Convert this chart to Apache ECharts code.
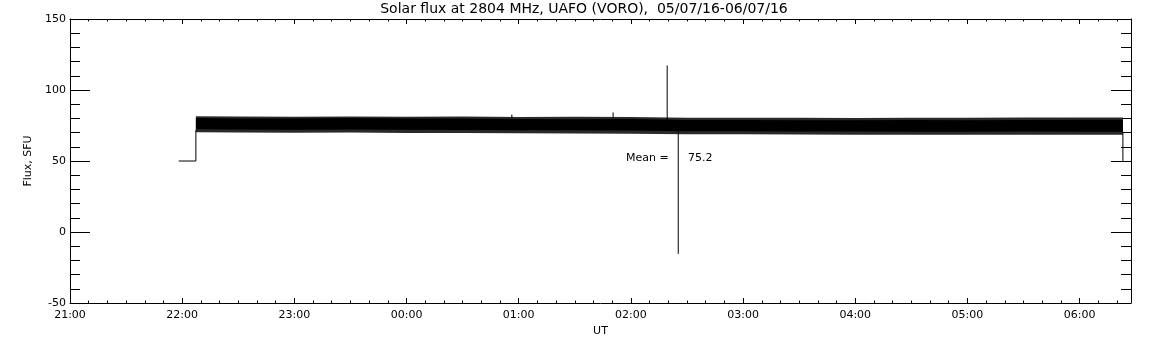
<!DOCTYPE html>
<html>
<head>
<meta charset="utf-8">
<script src="https://cdn.jsdelivr.net/npm/echarts@6/dist/echarts.min.js"></script>
<style>
  html, body { margin: 0; padding: 0; background: #fff; }
  #main { width: 1152px; height: 345px; }
</style>
</head>
<body>
<div id="main"></div>
<script>
// UT times of the envelope samples, 05/07/16 evening -> 06/07/16 morning
var bandTimes = ['22:07:20', '22:30', '23:00', '23:30', '00:00', '00:30', '01:00', '01:30', '02:00',
                 '02:30', '03:00', '03:30', '04:00', '04:30', '05:00', '05:30', '06:00', '06:23:10'];
// dense part of the trace (SFU)
var coreHi = [80.2, 80.0, 80.0, 80.2, 80.0, 80.0, 79.6, 79.4, 79.5, 78.8, 78.8, 78.7, 78.7, 78.8, 78.7, 78.9, 79.1, 79.0];
var coreLo = [72.3, 72.2, 72.0, 72.2, 72.0, 71.9, 71.7, 71.6, 71.4, 71.0, 71.0, 70.8, 70.7, 70.6, 70.6, 70.7, 70.6, 70.6];
// noisy fringe of the trace (SFU)
var fringeHi = [81.5, 81.4, 81.2, 81.3, 81.2, 81.3, 81.0, 81.1, 80.9, 80.5, 80.4, 80.4, 80.3, 80.5, 80.4, 80.6, 80.7, 80.6];
var fringeLo = [70.2, 70.0, 69.9, 70.0, 69.8, 69.7, 69.6, 69.4, 69.2, 68.9, 68.8, 68.7, 68.5, 68.5, 68.4, 68.4, 68.5, 68.5];

// start and end of the record
var edgeTimes = ['21:58:10', '22:07:20', '22:07:20'];
var edgeVals = [50, 50, 72];
var tailTimes = ['06:23:10', '06:23:10'];
var tailVals = [70.6, 50];

// single spikes
var spikeTimes = ['00:56:20', '01:50:30', '02:19:25', '02:25:20'];
var spikeFrom = [80, 80, 79, 71];
var spikeTo = [82.7, 84.2, 117.3, -15.4];

var yTicks = [-50, 0, 50, 100, 150];
var meanValue = 75.2;

// minutes since 21:00 UT
function toMin(s) {
    var p = s.split(':');
    var h = +p[0], m = +p[1], sec = p[2] ? +p[2] : 0;
    if (h < 12) h += 24;
    return (h - 21) * 60 + m + sec / 60;
}
function pairs(times, vals) {
    return times.map(function (t, i) { return [toMin(t), vals[i]]; });
}

var spikeData = [];
spikeTimes.forEach(function (t, i) {
    spikeData.push([toMin(t), spikeFrom[i]]);
    spikeData.push([toMin(t), spikeTo[i]]);
    spikeData.push([toMin(t), '-']);
});

// filled bands between two envelopes: [upper, lower, colour]
var bands = [
    [fringeHi, fringeLo, '#2a2a2a'],
    [coreHi, coreLo, '#000']
];

var xMax = 567.5;
var font = 'DejaVu Sans';

function xAxisCfg(pos, interval, tickLen, labels) {
    return {
        type: 'value', position: pos, min: 0, max: xMax, interval: interval,
        axisLine: { show: labels, onZero: false, lineStyle: { color: '#000', width: 1 } },
        axisTick: { show: true, inside: true, length: tickLen, lineStyle: { color: '#000', width: 1 } },
        axisLabel: {
            show: labels && pos === 'bottom', color: '#000', fontFamily: font, fontSize: 11, margin: 7,
            formatter: function (v) {
                if (v % 60 !== 0) return '';
                var h = (21 + v / 60) % 24;
                return (h < 10 ? '0' : '') + h + ':00';
            }
        },
        splitLine: { show: false },
        name: labels && pos === 'bottom' ? 'UT' : '',
        nameLocation: 'middle', nameGap: 20,
        nameTextStyle: { color: '#000', fontFamily: font, fontSize: 11 }
    };
}
function yAxisCfg(pos, labels) {
    return {
        type: 'value', position: pos, min: yTicks[0], max: yTicks[yTicks.length - 1], interval: 50,
        axisLine: { show: true, onZero: false, lineStyle: { color: '#000', width: 1 } },
        axisTick: { show: true, inside: true, length: 20, lineStyle: { color: '#000', width: 1 } },
        minorTick: { show: true, splitNumber: 5, length: 10, lineStyle: { color: '#000', width: 1 } },
        axisLabel: { show: labels, color: '#000', fontFamily: font, fontSize: 11, margin: 4 },
        splitLine: { show: false },
        name: labels ? 'Flux, SFU' : '',
        nameLocation: 'middle', nameGap: 33,
        nameTextStyle: { color: '#000', fontFamily: font, fontSize: 11 }
    };
}

function traceSeries(data) {
    return {
        type: 'line', symbol: 'none', silent: true, connectNulls: false,
        data: data, lineStyle: { color: '#000', width: 1 }
    };
}

var myChart = echarts.init(document.getElementById('main'));
var option = {
    animation: false,
    backgroundColor: '#fff',
    grid: { left: 70, top: 19, width: 1061, height: 284 },
    xAxis: [
        xAxisCfg('bottom', 60, 5, true),
        xAxisCfg('bottom', 10, 2.5, false),
        xAxisCfg('top', 60, 5, true),
        xAxisCfg('top', 10, 2.5, false)
    ],
    yAxis: [yAxisCfg('left', true), yAxisCfg('right', false)],
    graphic: [
        {
            type: 'text', x: 584, y: 9,
            style: { text: 'Solar flux at 2804 MHz, UAFO (VORO),  05/07/16-06/07/16', fill: '#000',
                     font: '14px "DejaVu Sans"', align: 'center', verticalAlign: 'middle' }
        },
        {
            type: 'text', x: 626, y: 158,
            style: { text: 'Mean =', fill: '#000', font: '11px "DejaVu Sans"', verticalAlign: 'middle' }
        },
        {
            type: 'text', x: 688, y: 158,
            style: { text: meanValue.toFixed(1), fill: '#000', font: '11px "DejaVu Sans"', verticalAlign: 'middle' }
        }
    ],
    series: [
        {
            type: 'custom', silent: true,
            data: bands.map(function (b, i) { return [i]; }),
            renderItem: function (params, api) {
                var b = bands[params.dataIndex];
                var pts = [];
                bandTimes.forEach(function (t, i) { pts.push(api.coord([toMin(t), b[0][i]])); });
                for (var i = bandTimes.length - 1; i >= 0; i--) pts.push(api.coord([toMin(bandTimes[i]), b[1][i]]));
                return { type: 'polygon', shape: { points: pts }, style: { fill: b[2] } };
            }
        },
        traceSeries(pairs(edgeTimes, edgeVals)),
        traceSeries(pairs(tailTimes, tailVals)),
        traceSeries(spikeData)
    ]
};
myChart.setOption(option);
</script>
</body>
</html>
